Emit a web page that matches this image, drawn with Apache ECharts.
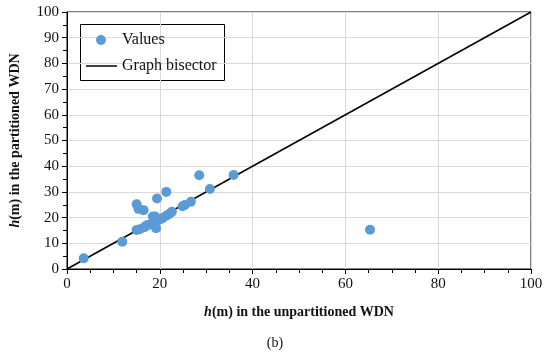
<!DOCTYPE html>
<html><head><meta charset="utf-8">
<script src="https://cdn.jsdelivr.net/npm/echarts@6/dist/echarts.min.js"></script>
<style>html,body{margin:0;padding:0;background:#fff}#c{width:550px;height:364px}</style>
</head><body><div id="c"></div>
<script>
const unpartitioned = [3.6, 11.9, 15.0, 15.4, 16.5, 19.4, 21.4, 28.5, 30.8, 35.9, 26.7, 25.4, 24.9, 15.0, 15.7, 16.7, 17.7, 18.5, 19.2, 19.2, 19.9, 20.6, 21.4, 22.1, 22.6, 19.0, 17.2, 65.3];
const partitioned   = [4.2, 10.6, 25.2, 23.4, 22.9, 27.4, 30.0, 36.5, 31.1, 36.6, 26.2, 24.9, 24.4, 15.2, 15.5, 16.3, 17.2, 20.4, 15.9, 19.1, 19.2, 19.8, 20.7, 21.5, 22.3, 20.4, 17.0, 15.3];
const bisectorX = [0, 100];
const bisectorY = [0, 100];
const xTicks = [0, 20, 40, 60, 80, 100];
const yTicks = [0, 10, 20, 30, 40, 50, 60, 70, 80, 90, 100];

const font = 'Liberation Serif, Times New Roman, serif';
const chart = echarts.init(document.getElementById('c'));
chart.setOption({
  animation: false,
  grid: {left: 66, right: 19, top: 12, bottom: 95, show: true, borderColor: '#000', borderWidth: 1},
  xAxis: {
    type: 'value', min: xTicks[0], max: xTicks[xTicks.length-1], interval: 20,
    axisLine: {show: true, lineStyle: {color: '#000', width: 1}},
    axisTick: {show: true, length: 5, lineStyle: {color: '#000'}},
    minorTick: {show: true, splitNumber: 4, length: 4, lineStyle: {color: '#000'}},
    splitLine: {show: true, lineStyle: {color: '#d9d9d9', width: 1}},
    axisLabel: {color: '#111', fontFamily: font, fontSize: 15, margin: 8},
    name: '{i|h}(m) in the unpartitioned WDN', nameLocation: 'middle', nameGap: 36,
    nameTextStyle: {fontFamily: font, fontSize: 14, fontWeight: 'bold', color: '#111',
      rich: {i: {fontFamily: font, fontSize: 14, fontWeight: 'bold', fontStyle: 'italic', color: '#111'}}}
  },
  yAxis: {
    type: 'value', min: yTicks[0], max: yTicks[yTicks.length-1], interval: 10,
    axisLine: {show: true, lineStyle: {color: '#000', width: 1}},
    axisTick: {show: true, length: 5, lineStyle: {color: '#000'}},
    minorTick: {show: true, splitNumber: 2, length: 4, lineStyle: {color: '#000'}},
    splitLine: {show: true, lineStyle: {color: '#d9d9d9', width: 1}},
    axisLabel: {color: '#111', fontFamily: font, fontSize: 15, margin: 8},
    name: '{i|h}(m) in the partitioned WDN', nameLocation: 'middle', nameGap: 45, nameRotate: 90,
    nameTextStyle: {fontFamily: font, fontSize: 14, fontWeight: 'bold', color: '#111',
      rich: {i: {fontFamily: font, fontSize: 14, fontWeight: 'bold', fontStyle: 'italic', color: '#111'}}}
  },
  legend: [
    {data: [{name: 'Values', icon: 'circle'}], left: 91, top: 27, itemWidth: 10, itemHeight: 10,
     textStyle: {fontFamily: font, fontSize: 16, color: '#111', padding: [0, 0, 0, 11]}},
    {data: [{name: 'Graph bisector', icon: 'path://M0,0H31V1.5H0Z'}], left: 81, top: 53, itemWidth: 31, itemHeight: 1.5,
     textStyle: {fontFamily: font, fontSize: 16, color: '#111'}}
  ],
  graphic: [
    {type: 'rect', left: 78, top: 22, shape: {width: 144, height: 56}, style: {fill: 'none', stroke: '#000', lineWidth: 1}, z: 0},
    {type: 'text', left: 'center', top: 336, style: {text: '(b)', font: '14px ' + font, fill: '#111'}}
  ],
  series: [
    {name: 'Graph bisector', type: 'line', data: bisectorX.map((x, i) => [x, bisectorY[i]]),
     showSymbol: false, lineStyle: {color: '#000', width: 1.5}, itemStyle: {color: '#000'}, z: 2},
    {name: 'Values', type: 'scatter', data: unpartitioned.map((x, i) => [x, partitioned[i]]),
     symbolSize: 10, itemStyle: {color: '#5B9BD5', opacity: 1}, z: 3}
  ]
});
</script></body></html>
